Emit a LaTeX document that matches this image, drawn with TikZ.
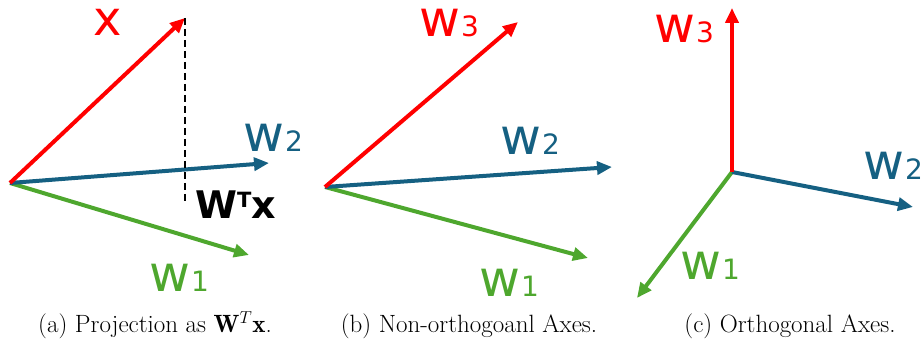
\documentclass[tikz,border=0pt]{standalone}
\usepackage{fontspec}
\usetikzlibrary{arrows.meta}
\newfontfamily\labfont{DejaVu Sans}
\definecolor{vred}{RGB}{255,0,0}
\definecolor{vblue}{RGB}{21,96,130}
\definecolor{vgreen}{RGB}{78,167,46}
\newcommand{\wlab}[1]{{\labfont\fontsize{50}{50}\selectfont w}\hspace{1pt}{\labfont\fontsize{28}{28}\selectfont #1}}
\tikzset{
  vec/.style={line width=4pt, -{Triangle[length=15pt,width=13pt]}},
  lab/.style={inner sep=0pt, anchor=base west},
  capt/.style={inner sep=0pt, anchor=base, font=\fontsize{25}{30}\selectfont}
}
\begin{document}
\begin{tikzpicture}[x=1pt,y=-1pt]
\useasboundingbox (0,0) rectangle (922,344);
% panel a
\coordinate (oa) at (10,183);
\coordinate (xa) at (185,18);
\coordinate (w2a) at (269,163);
\coordinate (w1a) at (249,255);
\coordinate (da) at (185,203);
\draw[vec, vgreen] (oa) -- (w1a);
\draw[vec, vblue] (oa) -- (w2a);
\draw[vec, vred] (oa) -- (xa);
\draw[line width=1.6pt, dash pattern=on 7pt off 4pt] (xa) -- (da);
\node[inner sep=0pt, text=vred, font=\labfont\fontsize{48}{48}\selectfont] (lxa) at (108,22) {x};
\node[lab, text=vblue] (lw2a) at (243,152) {\wlab{2}};
\node[lab, text=vgreen] (lw1a) at (149,292) {\wlab{1}};
\node[lab, font=\labfont\bfseries\fontsize{38}{38}\selectfont] (lwtx) at (195,219) {W\raisebox{11pt}{\fontsize{21}{21}\selectfont T}x};
% panel b
\coordinate (ob) at (325,187);
\coordinate (w3b) at (518,22);
\coordinate (w2b) at (612,167);
\coordinate (w1b) at (588,258);
\draw[vec, vgreen] (ob) -- (w1b);
\draw[vec, vblue] (ob) -- (w2b);
\draw[vec, vred] (ob) -- (w3b);
\node[lab, text=vred] (lw3b) at (419,37) {\wlab{3}};
\node[lab, text=vblue] (lw2b) at (500,155) {\wlab{2}};
\node[lab, text=vgreen] (lw1b) at (479,297) {\wlab{1}};
% panel c
\coordinate (oc) at (732,172);
\coordinate (w3c) at (732,8);
\coordinate (w2c) at (913,207);
\coordinate (w1c) at (637,298);
\draw[vec, vgreen] (oc) -- (w1c);
\draw[vec, vblue] (oc) -- (w2c);
\draw[vec, vred] (oc) -- (w3c);
\node[lab, text=vred] (lw3c) at (654,43) {\wlab{3}};
\node[lab, text=vblue] (lw2c) at (863,180) {\wlab{2}};
\node[lab, text=vgreen] (lw1c) at (680,280) {\wlab{1}};
% captions
\node[capt] (ca) at (155,333) {(a) Projection as $\mathbf{W}^T\mathbf{x}$.};
\node[capt] (cb) at (469,333) {(b) Non-orthogoanl Axes.};
\node[capt] (cc) at (790,333) {(c) Orthogonal Axes.};
\end{tikzpicture}
\end{document}
